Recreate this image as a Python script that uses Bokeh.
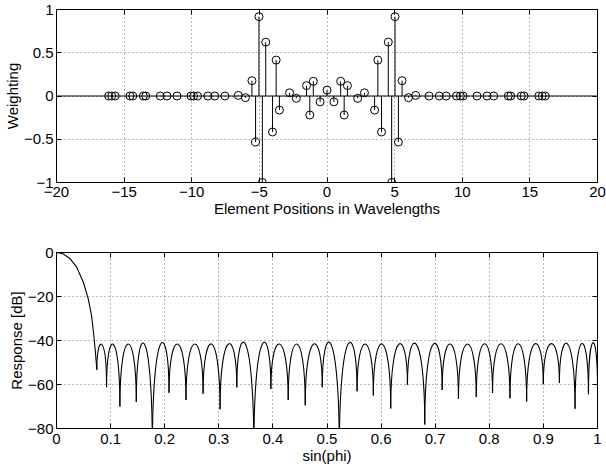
from bokeh.plotting import figure
from bokeh.models import LinearAxis, FixedTicker, Span
from bokeh.layouts import column
from bokeh.embed import file_html
from bokeh.resources import INLINE

# ---------------- data: top panel (array weights) ----------------
element_pos = [
    -16.14, -15.92, -15.66, -14.57, -14.36, -13.58, -13.40, -12.33, -11.83, -11.09,
    -10.06, -9.86, -9.57, -8.81, -8.30, -7.55, -6.56, -6.03,
    -5.55, -5.28, -5.03, -4.78, -4.53, -4.03, -3.76, -3.52, -2.77, -2.27,
    -1.51, -1.27, -1.01, -0.51, 0.0,
    0.51, 1.01, 1.27, 1.51, 2.27, 2.77, 3.52, 3.76, 4.03, 4.53, 4.78, 5.03,
    5.28, 5.55,
    6.03, 6.56, 7.55, 8.30, 8.81, 9.57, 9.86, 10.06, 11.09, 11.83, 12.33,
    13.40, 13.58, 14.36, 14.57, 15.66, 15.92, 16.14,
]
weights = [
    0.0, 0.0, 0.0, 0.0, 0.0, 0.0, 0.0, 0.0, 0.0, 0.0,
    0.0, 0.0, 0.0, 0.0, 0.0, 0.0, 0.007, -0.019,
    0.177, -0.532, 0.917, -1.0, 0.623, -0.416, 0.415, -0.163, 0.037, -0.027,
    0.12, -0.22, 0.17, -0.068, 0.068,
    -0.068, 0.17, -0.22, 0.12, -0.027, 0.037, -0.163, 0.415, -0.416, 0.623, -1.0, 0.917,
    -0.532, 0.177,
    -0.019, 0.007, 0.0, 0.0, 0.0, 0.0, 0.0, 0.0, 0.0, 0.0, 0.0,
    0.0, 0.0, 0.0, 0.0, 0.0, 0.0, 0.0,
]

# ---------------- data: bottom panel (response) ----------------
# main lobe, read point by point
main_u = [0.0, 0.012, 0.0246, 0.037, 0.0494, 0.0586, 0.0648, 0.069, 0.0717, 0.0746]
main_db = [0.0, -0.6, -2.7, -6.5, -13.4, -21.0, -28.6, -37.7, -44.6, -53.3]
# side-lobe nulls (position, depth) and the peak level of each lobe between them
null_u = [0.0746, 0.0925, 0.1172, 0.1475, 0.1772, 0.2080, 0.2394, 0.2710, 0.3024,
          0.3333, 0.3648, 0.3963, 0.4283, 0.4598, 0.4913, 0.5228, 0.5556, 0.5857,
          0.6178, 0.6487, 0.6807, 0.7129, 0.7430, 0.7759, 0.8060, 0.8382, 0.8690,
          0.8998, 0.9296, 0.9585, 0.9833, 1.0]
null_db = [-53.3, -61.3, -70.0, -67.9, -90.0, -63.7, -67.0, -64.2, -71.3,
           -61.3, -90.0, -62.0, -67.0, -69.4, -61.3, -90.0, -63.1, -65.0,
           -70.9, -60.1, -78.2, -62.5, -66.6, -65.7, -63.9, -66.3, -67.7,
           -59.9, -59.3, -71.0, -64.4, -61.0]
peak_db = [-41.8, -41.7, -41.6, -41.6, -41.6, -41.6, -41.6, -41.6, -41.6,
           -41.6, -41.6, -41.6, -41.6, -41.6, -41.6, -41.6, -41.6, -41.6,
           -41.6, -41.6, -41.6, -41.6, -41.6, -41.5, -41.5, -41.5, -41.5,
           -41.4, -41.4, -41.4, -41.0]

# ---------------- ticks ----------------
top_xticks = [-20, -15, -10, -5, 0, 5, 10, 15, 20]
top_xlabels = ["\u221220", "\u221215", "\u221210", "\u22125", "0", "5", "10", "15", "20"]
top_yticks = [-1, -0.5, 0, 0.5, 1]
top_ylabels = ["\u22121", "\u22120.5", "0", "0.5", "1"]
bot_xticks = [0, 0.1, 0.2, 0.3, 0.4, 0.5, 0.6, 0.7, 0.8, 0.9, 1]
bot_xlabels = ["0", "0.1", "0.2", "0.3", "0.4", "0.5", "0.6", "0.7", "0.8", "0.9", "1"]
bot_yticks = [-80, -60, -40, -20, 0]
bot_ylabels = ["\u221280", "\u221260", "\u221240", "\u221220", "0"]

FONT = "Liberation Sans"
FS = "15px"


def style_axis(ax, ticks, labels, show_labels=True, lab_off=3, ax_off=0):
    ax.ticker = FixedTicker(ticks=ticks)
    ax.major_label_overrides = dict(zip(ticks, labels))
    ax.major_tick_in = 5
    ax.major_tick_out = 0
    ax.minor_tick_line_color = None
    ax.axis_line_color = "black"
    ax.major_tick_line_color = "black"
    ax.major_label_text_font = FONT
    ax.major_label_text_color = "black"
    ax.axis_label_text_font = FONT
    ax.axis_label_text_font_size = FS
    ax.axis_label_text_font_style = "normal"
    ax.axis_label_text_color = "black"
    if show_labels:
        ax.major_label_text_font_size = FS
        ax.major_label_standoff = lab_off
        ax.axis_label_standoff = ax_off
    else:
        ax.major_label_text_font_size = "0px"
        ax.major_label_standoff = 0


def make_fig(height, xr, yr, xt, xl, yt, yl, xlabel, ylabel, top_b, bot_b, x_off):
    p = figure(width=606, height=height, x_range=xr, y_range=yr,
               output_backend="svg", toolbar_location=None,
               min_border_left=56, min_border_right=9,
               min_border_top=top_b, min_border_bottom=bot_b)
    p.outline_line_color = "black"
    p.outline_line_alpha = 1.0
    p.background_fill_color = "white"
    style_axis(p.xaxis[0], xt, xl, lab_off=x_off, ax_off=0)
    style_axis(p.yaxis[0], yt, yl, lab_off=3, ax_off=0)
    p.xaxis[0].axis_label = xlabel
    p.yaxis[0].axis_label = ylabel
    ax_top = LinearAxis()
    style_axis(ax_top, xt, [""] * len(xt), show_labels=False)
    p.add_layout(ax_top, "above")
    ax_right = LinearAxis()
    style_axis(ax_right, yt, [""] * len(yt), show_labels=False)
    p.add_layout(ax_right, "right")
    for g in (p.xgrid[0], p.ygrid[0]):
        g.grid_line_color = "black"
        g.grid_line_alpha = 0.55
        g.grid_line_dash = "1 3"
        g.grid_line_width = 1
    return p


# ---------------- top panel ----------------
p1 = make_fig(228, (-20, 20), (-1, 1), top_xticks, top_xlabels, top_yticks, top_ylabels,
              "Element Positions in Wavelengths", "Weighting", 9, 46, 4)
p1.add_layout(Span(location=0, dimension="width", line_color="black", line_width=1))
p1.segment(x0=element_pos, y0=[0] * len(element_pos), x1=element_pos, y1=weights,
           line_color="black", line_width=1)
p1.scatter(element_pos, weights, marker="circle", size=8, fill_color=None,
           line_color="black", line_width=1)

# ---------------- bottom panel ----------------
p2 = make_fig(241, (0, 1), (-80, 0), bot_xticks, bot_xlabels, bot_yticks, bot_ylabels,
              "sin(phi)", "Response [dB]", 24, 41, 5)
p2.line(main_u, main_db, line_color="black", line_width=1.1)

x0 = null_u[:-1]
x1 = null_u[1:]
y0 = null_db[:-1]
y1 = null_db[1:]
# control heights chosen so each lobe's apex sits at its read peak level
cy = [(pk - (a + b) / 8.0) * 4.0 / 3.0 for pk, a, b in zip(peak_db, y0, y1)]
p2.bezier(x0=x0, y0=y0, x1=x1, y1=y1, cx0=x0, cy0=cy, cx1=x1, cy1=cy,
          line_color="black", line_width=1.1)

layout = column(p1, p2)
open("out.html", "w").write(file_html(layout, INLINE))
